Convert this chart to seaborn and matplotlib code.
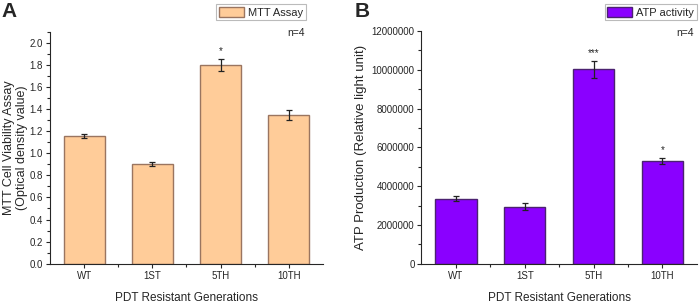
import numpy as np
import pandas as pd
import matplotlib
matplotlib.use("Agg")
import matplotlib.pyplot as plt
from matplotlib.ticker import MultipleLocator, FixedLocator
import seaborn as sns

# data
generations = ["WT", "1ST", "5TH", "10TH"]
mtt_mean = [1.155, 0.90, 1.80, 1.345]
mtt_err = [0.022, 0.016, 0.055, 0.045]
mtt_stars = ["", "", "*", ""]
atp_mean = [3350000, 2950000, 10020000, 5300000]
atp_err = [140000, 170000, 440000, 170000]
atp_stars = ["", "", "***", "*"]

sns.set_style("ticks")
plt.rcParams["font.family"] = ["Liberation Sans", "DejaVu Sans"]

df_a = pd.DataFrame({"gen": generations, "val": mtt_mean})
df_b = pd.DataFrame({"gen": generations, "val": atp_mean})

fig = plt.figure(figsize=(6.99, 3.07), dpi=100)
ax_a = fig.add_axes([0.0715, 0.141, 0.3905, 0.756])
ax_b = fig.add_axes([0.603, 0.141, 0.394, 0.758])


def draw_panel(ax, df, err, stars, fill, edge, label, star_off):
    sns.barplot(data=df, x="gen", y="val", ax=ax, color=fill, width=0.6,
                edgecolor=edge, linewidth=1.0, saturation=1, label=label)
    xs = [p.get_x() + p.get_width() / 2 for p in ax.patches]
    ax.errorbar(xs, df["val"], yerr=err, fmt="none", ecolor="#222222",
                elinewidth=0.9, capsize=2.5, capthick=0.9)
    for x, v, e, s in zip(xs, df["val"], err, stars):
        if s:
            ax.text(x, v + e + star_off, s, ha="center", va="bottom", fontsize=7)
    ax.set_xlim(-0.5, 3.5)
    ax.xaxis.set_minor_locator(FixedLocator([0.5, 1.5, 2.5]))
    ax.tick_params(axis="both", which="major", labelsize=7, length=3, width=0.8, pad=2)
    ax.tick_params(axis="both", which="minor", length=2, width=0.8)
    ax.set_xlabel("PDT Resistant Generations", fontsize=8.5, labelpad=8)
    for sp in ["top", "right"]:
        ax.spines[sp].set_visible(False)
    for sp in ["left", "bottom"]:
        ax.spines[sp].set_linewidth(0.8)


draw_panel(ax_a, df_a, mtt_err, mtt_stars, "#FFCC99", "#9A7560", "MTT Assay", 0.02)
ax_a.set_ylim(0, 2.1)
ax_a.yaxis.set_major_locator(MultipleLocator(0.2))
ax_a.yaxis.set_minor_locator(MultipleLocator(0.1))
ax_a.yaxis.set_major_formatter(matplotlib.ticker.FormatStrFormatter("%.1f"))
ax_a.set_ylabel("MTT Cell Viability Assay\n(Optical density value)", fontsize=9,
                labelpad=1, linespacing=1.15)

draw_panel(ax_b, df_b, atp_err, atp_stars, "#8A00FF", "#4B2270", "ATP activity", 120000)
ax_b.set_ylim(0, 12000000)
ax_b.yaxis.set_major_locator(MultipleLocator(2000000))
ax_b.yaxis.set_minor_locator(MultipleLocator(1000000))
ax_b.yaxis.set_major_formatter(matplotlib.ticker.FuncFormatter(lambda v, p: f"{int(v)}"))
for t in ax_b.get_yticklabels():
    t.set_fontfamily(["Liberation Sans Narrow", "Liberation Sans"])
    t.set_fontsize(7)
ax_b.set_ylabel("ATP Production (Relative light unit)", fontsize=9.5, labelpad=3)

# legends sit above the axes
for ax, right in [(ax_a, 306), (ax_b, 697)]:
    leg = ax.legend(loc="upper right", bbox_to_anchor=(right / 699, 1 - 4 / 307),
                    bbox_transform=fig.transFigure, borderaxespad=0, fontsize=8,
                    fancybox=False, framealpha=1, edgecolor="#bbbbbb",
                    handlelength=2.2, handleheight=1.0, handletextpad=0.4,
                    borderpad=0.25)
    leg.get_frame().set_linewidth(0.8)

fig.text(305 / 699, 1 - 33 / 307, "n=4", ha="right", va="center", fontsize=7.5)
fig.text(694 / 699, 1 - 33 / 307, "n=4", ha="right", va="center", fontsize=7.5)

fig.text(0.002, 0.995, "A", ha="left", va="top", fontsize=15, fontweight="bold")
fig.text(355 / 699, 0.995, "B", ha="left", va="top", fontsize=15, fontweight="bold")

fig.savefig("out.png", dpi=100)
